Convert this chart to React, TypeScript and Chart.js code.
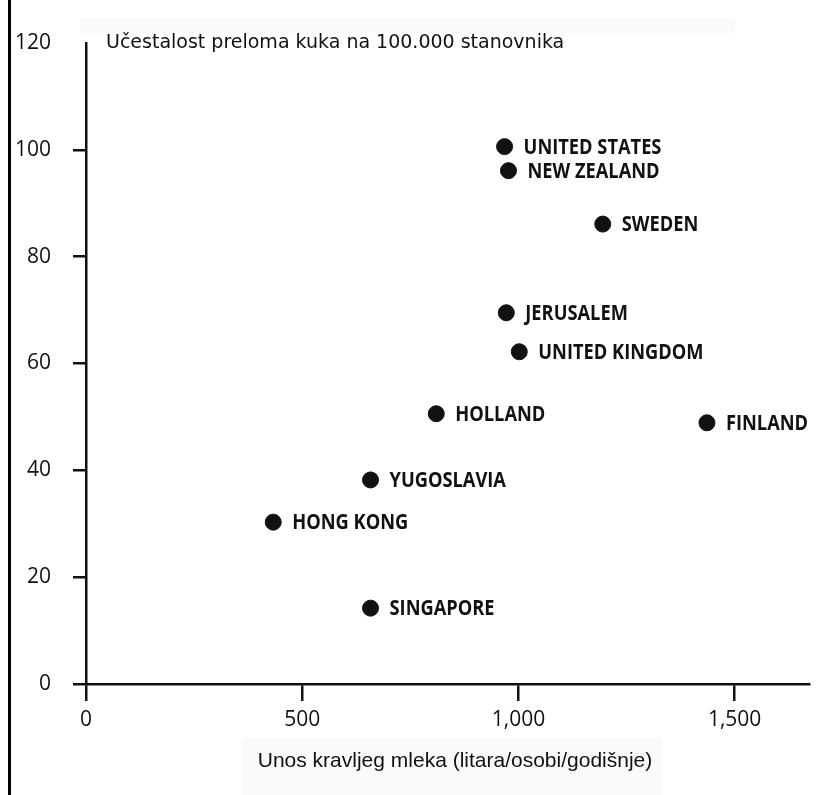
import React, { useEffect, useRef } from "react";
import { Chart, registerables } from "chart.js";

Chart.register(...registerables);

const countries = [
  "UNITED STATES",
  "NEW ZEALAND",
  "SWEDEN",
  "JERUSALEM",
  "UNITED KINGDOM",
  "HOLLAND",
  "FINLAND",
  "YUGOSLAVIA",
  "HONG KONG",
  "SINGAPORE",
];
const milkIntake = [968, 977, 1195, 972, 1002, 810, 1436, 658, 433, 658];
const hipFractures = [100.6, 96.1, 86.1, 69.5, 62.2, 50.6, 48.9, 38.2, 30.3, 14.2];
const xTicks = [0, 500, 1000, 1500];
const yTicks = [0, 20, 40, 60, 80, 100, 120];
const yTitle = "Učestalost preloma kuka na 100.000 stanovnika";
const xTitle = "Unos kravljeg mleka (litara/osobi/godišnje)";

const W = 818;
const H = 795;

export default function App() {
  const ref = useRef<HTMLCanvasElement | null>(null);

  useEffect(() => {
    document.body.style.margin = "0";
    const canvas = ref.current;
    if (!canvas) return;

    const decor = {
      id: "decor",
      beforeDraw(chart: any) {
        const ctx = chart.ctx;
        ctx.save();
        ctx.fillStyle = "#ffffff";
        ctx.fillRect(0, 0, W, H);
        // faint scan boxes
        ctx.fillStyle = "#fafafa";
        ctx.fillRect(80, 18, 655, 15);
        ctx.fillRect(243, 738, 419, 57);
        // left border
        ctx.fillStyle = "#000";
        ctx.fillRect(8, 0, 3, H);
        ctx.restore();
      },
      afterDraw(chart: any) {
        const ctx = chart.ctx;
        ctx.save();
        ctx.fillStyle = "#111";
        ctx.font = '19px "DejaVu Sans"';
        ctx.textBaseline = "middle";
        ctx.textAlign = "left";
        ctx.fillText(yTitle, 106, 43);
        ctx.font = '21px "Liberation Sans"';
        ctx.textAlign = "center";
        ctx.fillText(xTitle, 455, 761);
        ctx.restore();
      },
    };

    const pointLabels = {
      id: "pointLabels",
      afterDatasetsDraw(chart: any) {
        const ctx = chart.ctx;
        const meta = chart.getDatasetMeta(0);
        ctx.save();
        ctx.fillStyle = "#111";
        ctx.font = 'bold 22px "Open Sans"';
        ctx.textBaseline = "middle";
        ctx.textAlign = "left";
        meta.data.forEach((el: any, i: number) => {
          ctx.save();
          ctx.translate(el.x + 19, el.y + 1);
          ctx.scale(0.83, 1);
          ctx.fillText(countries[i], 0, 0);
          ctx.restore();
        });
        ctx.restore();
      },
    };

    const chart = new Chart(canvas, {
      type: "scatter",
      data: {
        datasets: [
          {
            data: milkIntake.map((x, i) => ({ x, y: hipFractures[i] })),
            backgroundColor: "#111",
            borderColor: "#111",
            pointRadius: 8,
            pointHoverRadius: 8,
          },
        ],
      },
      options: {
        responsive: false,
        animation: false,
        layout: { padding: { top: 43, right: 1, left: 0, bottom: 0 } },
        plugins: { legend: { display: false }, tooltip: { enabled: false } },
        scales: {
          x: {
            type: "linear",
            min: 0,
            max: 1672,
            afterFit(scale: any) {
              scale.height = H - 684;
            },
            afterBuildTicks(scale: any) {
              scale.ticks = xTicks.map((v) => ({ value: v }));
            },
            grid: {
              drawOnChartArea: false,
              drawTicks: true,
              tickLength: 17,
              color: "#111",
              lineWidth: 2.5,
            },
            border: { display: true, color: "#111", width: 2.5 },
            ticks: {
              padding: 6,
              color: "#111",
              font: { family: "Open Sans", size: 21 },
              callback: (v: any) => Number(v).toLocaleString("en-US"),
            },
          },
          y: {
            type: "linear",
            min: 0,
            max: 120,
            afterFit(scale: any) {
              scale.width = 86;
            },
            afterBuildTicks(scale: any) {
              scale.ticks = yTicks.map((v) => ({ value: v }));
            },
            grid: {
              drawOnChartArea: false,
              drawTicks: true,
              tickLength: 13,
              color: (c: any) => (c.tick && c.tick.value === 120 ? "rgba(0,0,0,0)" : "#111"),
              lineWidth: 2.5,
            },
            border: { display: true, color: "#111", width: 2.5 },
            ticks: {
              padding: 22,
              color: "#111",
              font: { family: "Open Sans", size: 21 },
            },
          },
        },
      },
      plugins: [decor, pointLabels],
    });

    return () => chart.destroy();
  }, []);

  return (
    <div style={{ position: "absolute", left: 0, top: 0, width: W, height: H }}>
      <canvas ref={ref} width={W} height={H} style={{ width: W, height: H, display: "block" }} />
    </div>
  );
}
